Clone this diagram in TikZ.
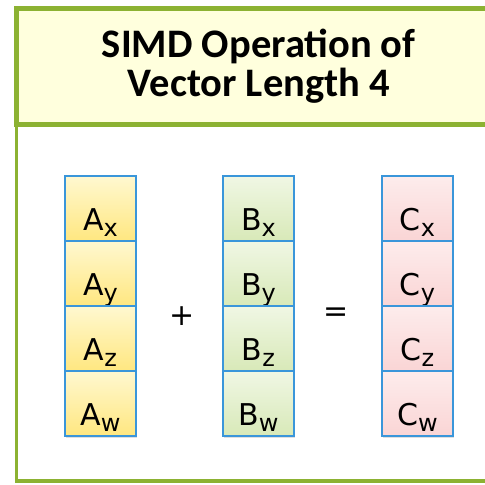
\documentclass[tikz,border=0pt]{standalone}
\usepackage{fontspec}
\setmainfont{Carlito}
\newfontfamily\cellfont{DejaVu Sans}
\usepackage{xcolor}
\usepackage{tikz}
\usetikzlibrary{positioning, shadows}

\definecolor{framegreen}{RGB}{140,178,50}
\definecolor{titlefill}{RGB}{255,255,221}
\definecolor{cellblue}{RGB}{58,150,218}
\newcommand{\vsub}[1]{\raisebox{-6pt}{\fontsize{24}{24}\selectfont #1}}

\begin{document}
\begin{tikzpicture}[x=1pt, y=-1pt, every node/.style={font=\cellfont\fontsize{30}{30}\selectfont},
  cell/.style={draw=cellblue, line width=1.5pt, minimum width=71pt, minimum height=65pt,
    inner sep=0pt, outer sep=0pt, text height=43pt, text depth=0pt,
    drop shadow={shadow xshift=1pt, shadow yshift=-2pt, opacity=0.25}},
  cella/.style={cell, top color={rgb,255:red,255;green,248;blue,208}, bottom color={rgb,255:red,255;green,231;blue,128}},
  cellb/.style={cell, top color={rgb,255:red,240;green,247;blue,228}, bottom color={rgb,255:red,216;green,233;blue,184}},
  cellc/.style={cell, top color={rgb,255:red,253;green,236;blue,236}, bottom color={rgb,255:red,250;green,213;blue,213}},
  titlebox/.style={draw=framegreen, line width=5pt, fill=titlefill, minimum width=484.5pt,
    minimum height=116.5pt, align=center, font=\rmfamily\bfseries\fontsize{40.5}{39}\selectfont}]
  \useasboundingbox (0,0) rectangle (485,485);
  \draw[framegreen, line width=3.5pt, fill=white] (16.5,124.5) rectangle (501,481);
  \node[titlebox] (title) at (258.75,66.25) {SIMD Operation of\\Vector Length 4};

  \node[cella] (ax) at (100.5,208.5) {A\vsub{x}};
  \node[cella, below=0pt of ax] (ay) {A\vsub{y}};
  \node[cella, below=0pt of ay] (az) {A\vsub{z}};
  \node[cella, below=0pt of az] (aw) {A\vsub{w}};

  \node[cellb] (bx) at (258.5,208.5) {B\vsub{x}};
  \node[cellb, below=0pt of bx] (by) {B\vsub{y}};
  \node[cellb, below=0pt of by] (bz) {B\vsub{z}};
  \node[cellb, below=0pt of bz] (bw) {B\vsub{w}};

  \node[cellc] (cx) at (417.5,208.5) {C\vsub{x}};
  \node[cellc, below=0pt of cx] (cy) {C\vsub{y}};
  \node[cellc, below=0pt of cy] (cz) {C\vsub{z}};
  \node[cellc, below=0pt of cz] (cw) {C\vsub{w}};

  \node (plus) at (182,316) {+};
  \node (equals) at (336,315) {=};
\end{tikzpicture}
\end{document}
